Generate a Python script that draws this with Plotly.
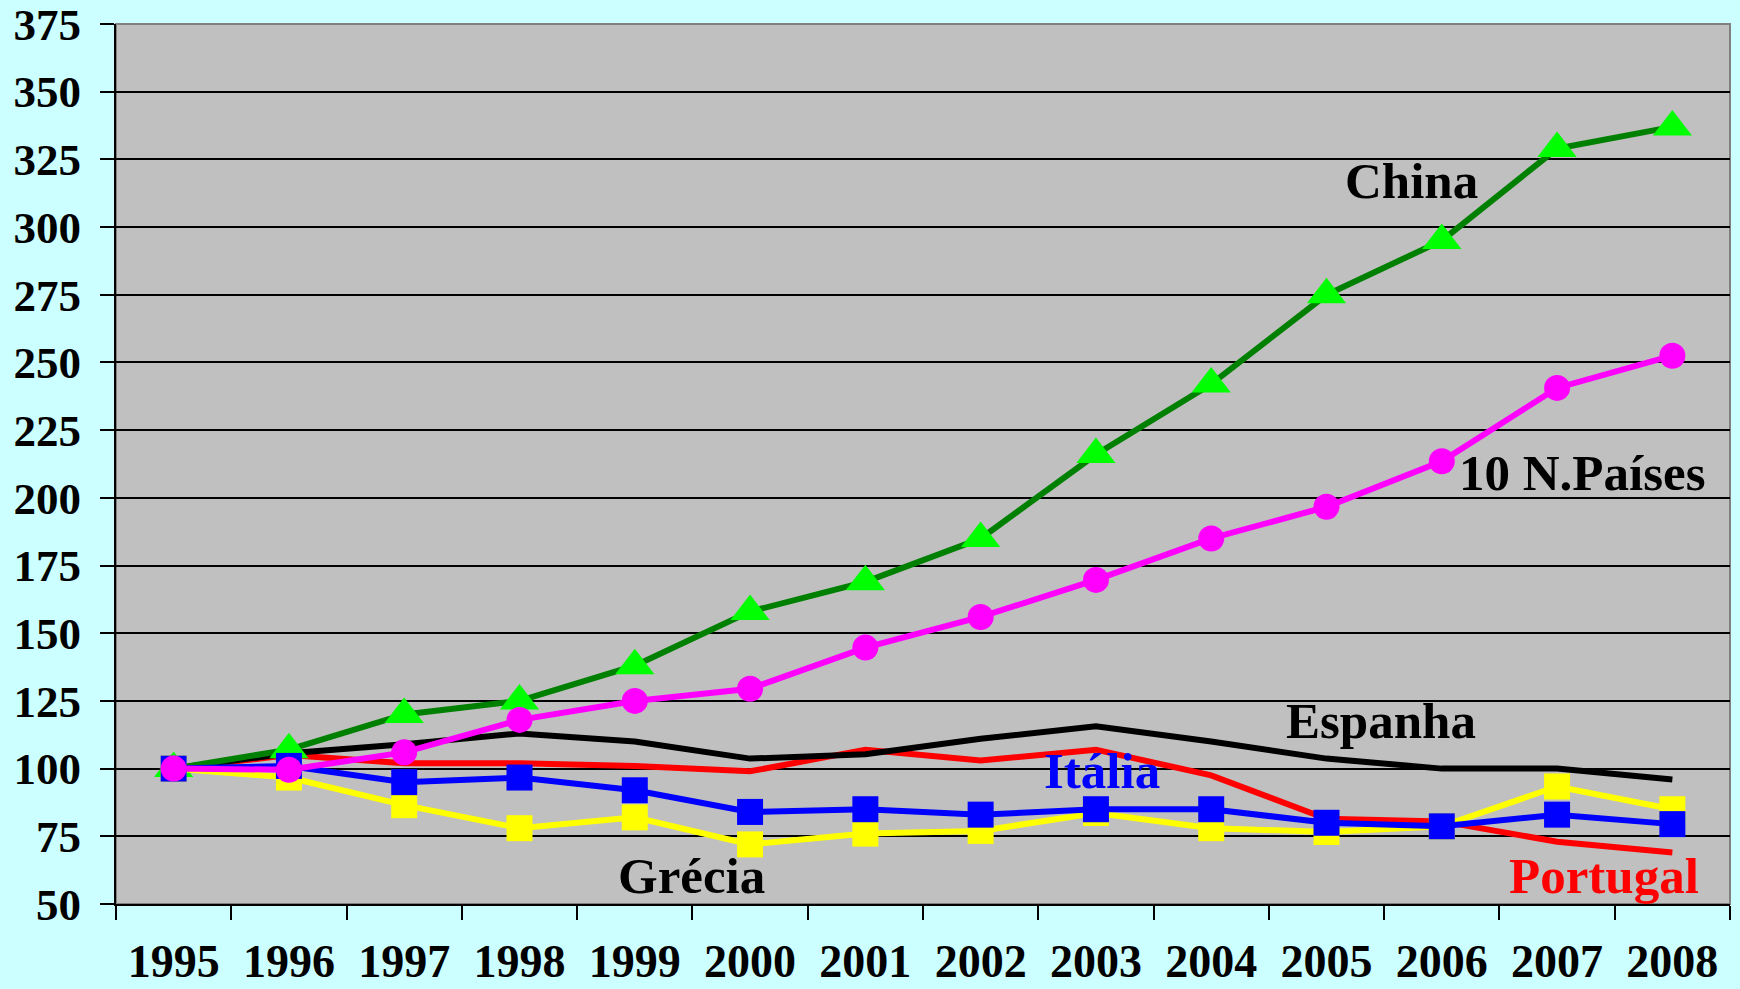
import plotly.graph_objects as go

years = ["1995", "1996", "1997", "1998", "1999", "2000", "2001",
         "2002", "2003", "2004", "2005", "2006", "2007", "2008"]

china = [100, 107, 120, 125, 138, 158, 169, 185, 216, 242, 275, 295, 329, 337]
paises10 = [100, 99.6, 106, 118, 125, 129.5, 144.7, 156, 169.7, 185, 196.7, 213.5, 240.6, 252.5]
espanha = [100, 105.7, 109, 113, 110, 103.7, 105.3, 111, 115.6, 110, 103.7, 100, 100, 96]
portugal = [100, 105, 102, 102, 101, 99, 107, 103, 107, 97.5, 81.5, 80.5, 73, 69]
italia = [100, 101, 95, 96.7, 92, 84, 85, 83, 85, 85, 80, 78.7, 83, 79.5]
grecia = [100, 96.7, 86.5, 78, 82, 72, 76, 77, 83.6, 78, 76.6, 78.7, 93.4, 85]

y_ticks = [50, 75, 100, 125, 150, 175, 200, 225, 250, 275, 300, 325, 350, 375]

FONT = "Liberation Serif, Times New Roman, serif"

fig = go.Figure()

fig.add_trace(go.Scatter(x=years, y=portugal, mode="lines", name="Portugal",
                         line=dict(color="#FF0000", width=6)))
fig.add_trace(go.Scatter(x=years, y=espanha, mode="lines", name="Espanha",
                         line=dict(color="#000000", width=6)))
fig.add_trace(go.Scatter(x=years, y=china, mode="lines+markers", name="China",
                         line=dict(color="#008000", width=6),
                         marker=dict(symbol="triangle-up", size=34, color="#00FF00",
                                     line=dict(width=0))))
fig.add_trace(go.Scatter(x=years, y=grecia, mode="lines+markers", name="Grécia",
                         line=dict(color="#FFFF00", width=6),
                         marker=dict(symbol="square", size=26, color="#FFFF00",
                                     line=dict(width=0))))
fig.add_trace(go.Scatter(x=years, y=italia, mode="lines+markers", name="Itália",
                         line=dict(color="#0000FF", width=6),
                         marker=dict(symbol="square", size=26, color="#0000FF",
                                     line=dict(width=0))))
fig.add_trace(go.Scatter(x=years, y=paises10, mode="lines+markers", name="10 N.Países",
                         line=dict(color="#FF00FF", width=6),
                         marker=dict(symbol="circle", size=26, color="#FF00FF",
                                     line=dict(width=0))))

labels = [
    ("China", 10.74, 317, "#000000"),
    ("10 N.Países", 12.22, 209, "#000000"),
    ("Espanha", 10.47, 117.7, "#000000"),
    ("Itália", 8.05, 99, "#0000FF"),
    ("Grécia", 4.49, 60.5, "#000000"),
    ("Portugal", 12.41, 60.5, "#FF0000"),
]
for text, xi, yv, col in labels:
    fig.add_annotation(x=xi, y=yv, xref="x", yref="y", text=f"<b>{text}</b>",
                       showarrow=False, xanchor="center", yanchor="middle",
                       font=dict(family=FONT, size=51, color=col))

fig.add_shape(type="rect", xref="paper", yref="paper", x0=0, y0=0, x1=1, y1=1,
              line=dict(color="#808080", width=2), layer="below")

fig.update_layout(
    width=1740, height=989,
    margin=dict(l=116, r=10, t=24, b=85),
    paper_bgcolor="#CCFFFF",
    plot_bgcolor="#C0C0C0",
    showlegend=False,
    font=dict(family=FONT, color="#000000"),
    xaxis=dict(
        type="category", range=[-0.5, 13.5], tickson="boundaries",
        showgrid=False, showline=True, linecolor="#000000", linewidth=2,
        ticks="outside", ticklen=14, tickwidth=2, tickcolor="#000000",
        tickfont=dict(family=FONT, size=46, color="#000000", weight="bold"),
        ticklabelstandoff=16, zeroline=False, automargin=False,
    ),
    yaxis=dict(
        range=[50, 375], tickvals=y_ticks, ticktext=[str(v) for v in y_ticks],
        showgrid=True, gridcolor="#000000", gridwidth=2,
        showline=True, linecolor="#000000", linewidth=2,
        ticks="outside", ticklen=14, tickwidth=2, tickcolor="#000000",
        tickfont=dict(family=FONT, size=45, color="#000000", weight="bold"),
        ticklabelstandoff=10, zeroline=False, automargin=False,
        ticklabeloverflow="allow",
    ),
)

fig.write_html("out.html", config={"displayModeBar": False},
               post_script="document.body.style.margin='0';document.body.style.overflow='hidden';")
